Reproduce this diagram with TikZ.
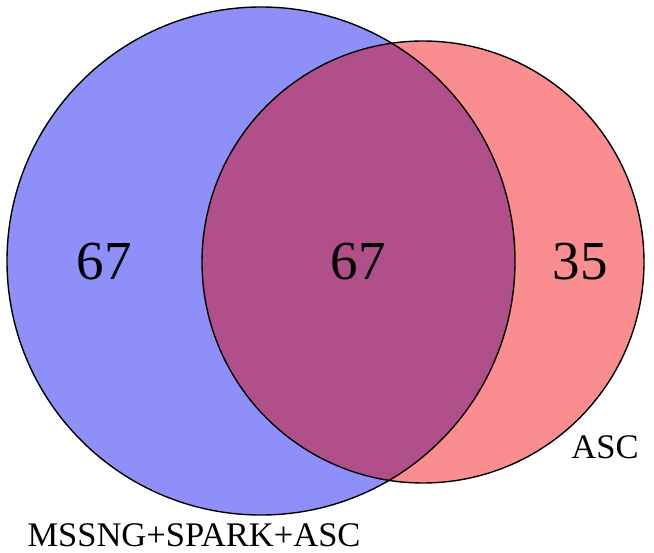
\documentclass[tikz,border=0pt]{standalone}
\usepackage{fontspec}
\setmainfont{Liberation Serif}
\definecolor{setblue}{HTML}{8F8FFA}
\definecolor{setred}{HTML}{F98D90}
\definecolor{setboth}{HTML}{B14F8A}
\begin{document}
\begin{tikzpicture}[x=1pt,y=-1pt]
        \tikzstyle{set}=[circle,draw=black,line width=1.4pt,inner sep=0pt]
        \tikzstyle{count}=[font=\fontsize{55}{60}\selectfont]
        \tikzstyle{setname}=[inner sep=0pt,font=\fontsize{34.5}{38}\selectfont]
        \useasboundingbox (0,0) rectangle (654,553);
       \begin{scope}
         \fill [setblue] (261,261) circle (254);
         \fill [setred] (423,262) circle (221);
         \begin{scope}
           \clip (261,261) circle (254);
           \fill [setboth] (423,262) circle (221);
         \end{scope}
         \node [set,minimum size=508pt] (mssng) at (261,261) {};
         \node [set,minimum size=442pt] (asc) at (423,262) {};
         \node [count] (onlymssng) at (104,262) {67};
         \node [count] (both) at (358,262) {67};
         \node [count] (onlyasc) at (580,262) {35};
         \node [setname] (asclabel) at (605,447) {ASC};
         \node [setname] (mssnglabel) at (194,535) {MSSNG+SPARK+ASC};
        \end{scope}
      \end{tikzpicture}
\end{document}
